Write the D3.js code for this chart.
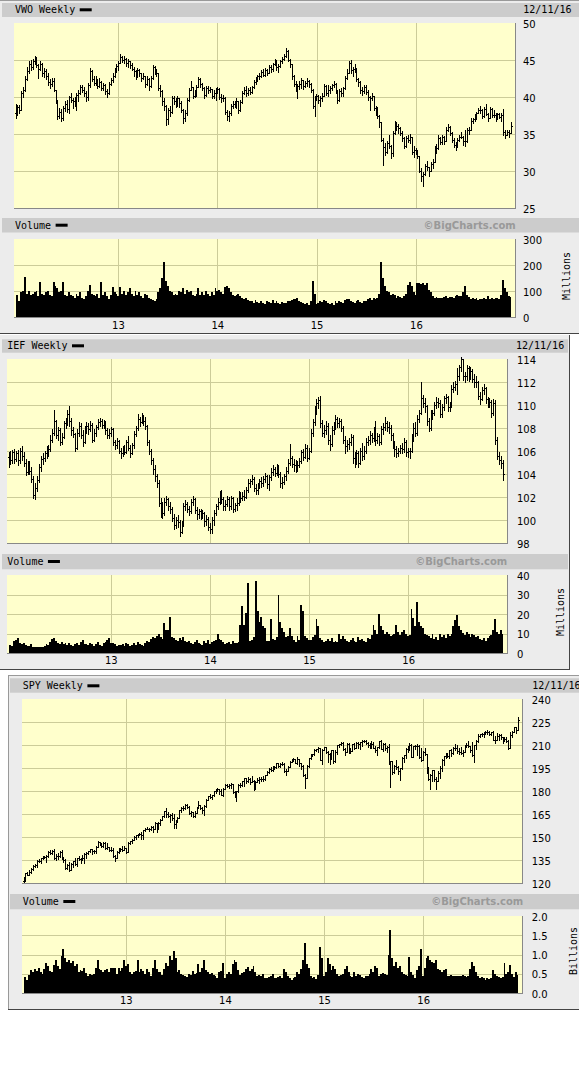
<!DOCTYPE html>
<html><head><meta charset="utf-8">
<script src="https://cdn.jsdelivr.net/npm/d3@7"></script>
<style>body{margin:0;background:#fff;}svg{display:block}</style>
</head><body>
<svg id="c" width="579" height="1068"></svg>
<script>
// ---------- x categories ----------
const firstWeek = "2011-12-16";           // first weekly bar (Friday)
const xDomain = ["2011-12-16", "2016-12-30"];
const yearTicks = ["2013-01-01", "2014-01-01", "2015-01-01", "2016-01-01"];
const yearLabels = ["13", "14", "15", "16"];

// ---------- VWO ----------
const vwoPriceTicks = [25, 30, 35, 40, 45, 50];
const vwoVolTicks = [0, 100, 200, 300];
const vwoClose = [
37.9,38.6,38.2,
40.5,41.0,42.5,43.5,44.5,44.0,44.8,45.0,44.3,43.8,44.5,43.2,43.5,42.8,42.0,41.8,42.2,41.0,39.5,37.5,38.0,37.2,38.5,39.0,38.4,40.0,39.6,39.4,39.0,40.3,40.6,41.3,41.0,40.5,40.0,41.6,43.5,42.5,41.9,42.3,41.5,42.0,41.2,41.6,40.8,40.5,41.8,42.3,42.9,43.6,44.2,44.6,
45.4,45.0,45.2,44.6,44.8,44.3,43.8,43.5,42.8,43.6,43.2,42.6,42.9,41.8,42.5,41.5,42.6,44.0,43.4,43.2,41.2,40.8,39.5,38.8,37.0,38.2,38.0,39.8,39.5,39.0,39.8,39.2,38.3,37.2,37.9,39.6,40.9,41.4,40.2,40.8,41.3,42.4,41.8,41.2,40.3,41.2,41.0,41.1,40.2,40.5,40.9,41.1,
40.0,39.8,39.9,38.0,37.5,37.8,38.8,39.0,39.2,39.5,38.2,39.3,40.6,41.0,40.6,41.0,40.7,41.3,42.0,42.4,42.8,42.9,43.4,43.0,43.6,43.3,44.0,43.8,44.4,44.9,44.0,44.2,44.8,45.2,45.5,46.2,45.0,44.4,42.8,41.8,41.2,41.5,41.8,42.3,41.5,41.9,42.1,41.8,41.0,38.8,39.8,40.1,
39.6,39.8,40.2,41.5,40.6,41.0,41.2,41.6,41.8,40.8,39.6,40.8,40.5,41.2,42.6,43.3,44.6,43.6,43.8,43.8,42.4,42.0,40.9,40.8,41.4,40.7,40.0,39.9,40.1,38.5,38.4,37.5,36.6,34.2,33.2,32.6,33.8,33.4,32.4,35.2,36.2,36.1,35.8,35.1,34.5,33.4,34.5,34.2,34.6,32.6,32.8,32.6,
32.0,30.0,29.3,29.6,30.7,30.6,30.0,30.9,31.2,33.2,33.1,34.5,33.9,34.6,34.0,35.6,36.0,35.2,34.2,33.5,33.3,34.2,34.6,34.6,34.0,34.0,35.6,35.6,36.8,37.0,37.4,37.8,38.2,38.3,37.4,38.4,37.7,37.1,38.4,37.6,37.6,37.2,37.7,37.3,37.6,35.3,34.9,35.3,35.1,36.1];
const vwoHigh = [
39.0,38.9,38.9,
40.8,41.4,42.8,44.0,44.8,45.0,45.2,45.6,45.4,44.4,44.9,44.6,43.9,43.8,43.2,42.4,42.6,42.6,41.0,39.6,38.5,38.4,38.8,39.4,39.6,40.2,40.5,39.8,40.0,40.5,41.0,41.6,41.6,41.4,40.8,41.9,43.9,43.7,42.8,42.8,42.5,42.6,42.1,41.9,41.7,41.1,42.0,42.6,43.2,43.9,44.5,44.9,
45.8,45.6,45.5,45.3,45.1,44.9,44.6,44.0,43.6,43.9,43.8,43.3,43.2,42.9,42.8,42.6,42.8,44.3,44.2,43.8,43.3,41.6,40.9,39.8,38.9,38.5,38.8,40.1,40.2,39.8,40.1,39.9,39.5,38.4,38.2,39.8,41.2,42.2,41.4,41.0,41.6,42.7,42.6,41.9,41.3,41.5,41.5,41.4,41.1,40.9,41.2,41.4,
41.2,40.4,40.3,40.0,38.3,38.1,39.1,39.4,39.5,39.9,39.5,39.6,40.8,41.4,41.5,41.2,41.3,41.5,42.3,42.7,43.0,43.3,43.7,43.8,43.9,43.8,44.3,44.3,44.6,45.2,45.0,44.5,45.0,45.4,45.8,46.6,46.3,45.2,44.3,43.0,42.1,41.8,42.2,42.6,42.3,42.2,42.6,42.3,41.9,41.1,40.2,40.4,
40.3,40.2,40.6,41.8,41.6,41.6,41.5,41.8,42.1,41.9,40.9,41.1,41.2,41.4,42.8,43.8,44.9,45.0,44.0,44.4,43.9,42.6,42.1,41.3,41.6,41.6,40.9,40.1,40.5,40.2,38.8,38.6,37.6,36.6,34.5,33.8,34.1,34.9,33.5,35.4,36.7,36.6,36.3,35.9,35.4,34.6,34.7,34.9,35.0,34.5,33.4,33.1,
32.9,31.8,30.4,29.9,31.0,31.4,30.6,31.2,31.6,33.4,33.6,34.8,34.6,34.8,34.7,35.9,36.4,36.1,35.3,34.5,33.9,34.5,34.9,35.3,34.7,35.6,35.8,35.9,37.1,37.2,37.7,38.0,38.5,38.8,38.4,38.6,39.0,37.8,38.7,38.5,38.2,37.9,37.9,37.9,37.8,38.4,35.5,35.6,35.6,36.6];
const vwoLow = [
37.2,37.6,37.9,
38.4,40.0,40.8,42.3,43.2,43.6,43.8,44.4,44.0,42.6,43.7,42.9,42.7,42.5,41.6,41.2,41.5,40.8,39.2,37.0,37.2,36.7,36.9,38.1,38.0,37.9,39.3,38.5,38.8,38.2,39.5,40.4,40.7,40.2,39.5,39.6,41.4,42.2,41.6,41.6,41.2,41.3,40.9,40.9,40.4,40.0,40.4,41.6,42.0,42.7,43.4,43.6,
44.8,44.7,44.6,44.2,44.1,43.9,43.6,42.8,42.4,42.7,42.9,42.1,42.4,41.3,41.6,41.0,41.4,42.5,43.1,42.9,40.9,40.2,38.9,38.2,36.2,36.3,37.4,37.9,39.1,38.6,38.8,38.7,38.0,36.5,36.8,37.6,39.5,40.9,39.9,40.0,40.2,41.3,41.4,40.9,39.8,40.1,40.6,40.7,39.8,39.9,39.6,40.6,
39.7,39.3,39.4,37.7,36.9,36.8,37.6,38.5,38.6,38.5,37.8,38.1,39.2,40.4,40.2,40.3,40.4,40.5,41.2,41.8,42.2,42.5,42.7,42.8,42.8,43.0,43.3,43.4,43.5,44.3,43.7,43.4,44.1,44.6,45.0,45.4,44.8,44.0,42.5,41.5,40.8,39.9,41.1,41.2,41.1,41.3,41.5,41.4,40.7,38.5,37.5,39.6,
39.2,38.8,39.4,40.1,40.3,40.1,40.6,40.9,41.3,40.5,39.2,39.5,40.1,40.2,41.1,42.5,43.2,43.3,42.9,43.4,42.1,41.5,40.6,40.3,40.6,40.4,39.6,38.2,39.6,38.2,37.6,37.2,35.9,34.0,30.8,32.1,32.4,33.1,31.8,32.0,35.0,35.6,35.2,34.8,34.1,33.1,33.3,33.9,33.8,32.3,31.9,32.3,
31.8,29.8,28.6,28.0,29.4,30.1,29.3,30.2,30.4,31.3,32.5,33.0,33.6,33.6,33.6,34.1,35.4,34.9,33.9,33.2,32.8,33.2,34.0,34.4,33.5,33.4,33.9,35.0,35.7,36.5,36.7,37.0,37.8,37.9,37.1,37.3,37.6,36.8,37.2,37.3,37.3,36.8,37.0,37.1,36.8,34.9,34.5,34.9,34.6,35.3];
const vwoVolume = [ // millions
70,85,60,
95,100,155,90,100,85,90,95,100,80,135,90,85,95,100,85,80,136,120,110,95,100,136,85,80,95,85,80,75,90,80,95,75,70,80,100,125,90,85,80,90,75,136,85,95,80,70,85,115,95,90,80,
115,90,100,85,95,110,90,80,100,85,95,80,75,90,85,75,70,65,60,70,95,110,150,213,140,120,100,95,85,90,85,100,95,110,90,105,95,100,85,80,90,110,85,95,85,100,90,80,95,85,110,100,
105,95,90,115,120,110,95,85,80,85,90,80,75,70,75,65,60,60,55,65,58,55,60,55,50,62,58,52,65,55,60,55,50,58,52,55,60,62,65,68,70,75,60,58,55,50,52,48,60,139,90,50,
55,60,58,65,62,55,50,52,48,60,55,62,58,55,65,70,68,60,58,55,62,65,58,55,60,62,70,75,65,72,68,75,90,213,150,120,100,95,85,90,85,75,80,78,75,80,90,125,135,118,95,85,
130,132,128,130,125,130,105,95,80,75,78,72,75,73,78,80,75,78,76,74,80,85,80,82,95,119,84,78,70,72,68,72,65,68,70,75,70,80,68,72,70,75,72,70,85,143,110,95,80,78];

// ---------- IEF ----------
const iefPriceTicks = [98, 100, 102, 104, 106, 108, 110, 112, 114];
const iefVolTicks = [0, 10, 20, 30, 40];
const iefClose = [
105.5,105.2,105.9,
105.3,105.8,105.2,106.0,105.6,105.0,104.2,104.8,104.3,103.6,102.2,102.8,103.5,104.6,105.3,105.4,105.8,106.0,106.2,107.0,107.6,108.6,107.4,107.8,106.8,107.2,108.4,108.5,109.2,108.6,107.8,107.5,106.3,107.6,108.2,107.4,106.8,107.9,108.2,107.9,108.3,107.0,107.6,108.1,108.5,108.6,108.3,108.4,107.8,107.4,107.6,107.9,
106.8,106.5,106.9,106.0,105.8,106.2,105.9,106.8,106.3,105.8,106.5,107.5,108.0,108.8,108.5,109.0,108.6,108.2,106.8,106.0,105.2,104.4,103.8,103.2,101.5,101.0,100.6,101.6,101.8,101.2,101.0,100.2,99.6,100.0,99.8,99.0,99.6,101.2,101.4,101.0,100.8,101.6,101.8,100.9,100.5,100.8,100.4,100.6,99.9,100.1,99.4,99.2,
100.0,100.6,101.2,101.6,102.2,101.8,101.2,101.4,101.8,101.2,101.9,101.0,101.3,101.5,102.3,101.9,102.1,102.0,102.6,103.2,103.4,103.6,102.8,102.6,102.9,103.4,103.2,103.6,103.8,103.1,103.7,104.2,104.4,104.1,104.6,104.0,103.2,103.3,103.8,104.3,105.0,105.4,104.9,104.8,104.6,104.8,105.1,105.9,105.5,106.3,105.4,106.0,
107.6,108.5,109.6,110.2,110.4,108.4,107.6,107.8,108.2,107.0,106.6,107.8,108.2,108.8,108.4,108.6,108.0,107.0,106.4,106.6,106.8,107.2,105.4,105.2,105.8,105.0,106.0,105.6,106.0,106.8,107.0,107.4,107.1,107.8,107.0,107.3,106.8,107.9,108.1,108.4,108.1,108.0,107.4,106.6,106.2,105.8,106.0,106.3,106.2,106.8,105.9,106.0,
106.0,107.2,108.0,107.6,108.8,109.3,110.6,110.2,109.9,108.6,108.0,109.3,109.3,110.0,110.3,110.2,109.2,109.8,110.6,110.7,109.8,110.0,111.4,111.6,111.8,112.5,113.3,114.0,112.5,112.5,113.2,112.5,113.0,112.3,112.0,112.0,110.8,110.5,111.3,111.5,110.5,110.1,110.3,109.3,110.2,107.0,105.6,105.2,105.0,104.0];
const iefHigh = [
105.9,106.0,106.1,
106.2,106.0,106.1,106.3,106.4,105.9,105.3,105.1,105.1,104.6,103.8,103.2,103.8,104.9,105.6,105.8,106.0,106.4,106.5,107.4,107.9,109.6,108.7,108.1,108.0,107.6,108.6,108.9,109.6,109.9,108.9,108.1,107.6,107.9,108.5,108.4,107.8,108.2,108.5,108.4,108.6,108.4,107.9,108.3,108.8,108.9,108.8,108.7,108.6,108.0,107.9,108.1,
108.0,107.0,107.1,107.0,106.3,106.4,106.5,107.0,107.3,106.5,106.7,107.7,108.2,109.2,109.0,109.3,109.1,109.0,108.3,107.0,106.2,105.4,104.8,104.0,103.5,101.9,101.6,101.9,102.1,101.9,101.6,101.1,100.5,100.3,100.4,100.0,99.9,101.5,101.7,101.6,101.2,101.8,102.1,101.9,101.1,101.0,101.0,100.9,100.7,100.4,100.3,99.7,
100.3,100.9,101.4,101.9,102.5,102.6,102.0,101.7,102.1,102.0,102.1,102.0,101.5,101.9,102.5,102.4,102.4,102.6,102.9,103.6,103.6,103.9,103.7,103.1,103.2,103.6,103.7,103.8,104.1,103.9,103.9,104.5,104.8,104.6,104.9,104.8,104.2,103.7,104.0,104.6,105.3,106.6,105.6,105.3,105.2,105.1,105.4,106.1,106.2,106.6,106.5,106.3,
107.9,108.8,109.9,110.5,110.7,110.8,108.7,108.3,108.6,108.4,107.4,108.2,108.5,109.1,109.0,108.9,108.8,108.2,107.3,107.0,107.1,107.5,107.4,105.9,106.1,106.0,106.3,106.7,106.4,107.1,107.3,107.7,107.6,108.1,108.6,107.6,107.5,108.2,108.4,109.0,108.6,108.5,108.3,107.6,106.9,106.4,106.3,106.5,106.7,107.1,107.0,106.3,
106.3,107.5,108.4,108.5,109.1,109.6,112.0,110.9,110.6,110.0,108.9,109.6,109.6,110.3,110.7,110.6,110.4,110.1,110.8,111.0,110.8,110.3,111.7,112.0,112.1,113.2,113.5,114.2,114.0,112.9,113.5,113.4,113.3,113.1,112.7,112.5,112.1,111.1,111.6,111.8,111.6,110.7,110.6,110.4,110.5,110.4,107.2,105.9,105.6,105.2];
const iefLow = [
104.6,104.9,105.0,
105.0,105.1,104.8,105.0,105.2,104.7,103.9,104.0,104.0,103.3,101.9,101.8,102.5,103.3,104.3,104.9,105.1,105.4,105.6,106.0,106.8,107.4,107.1,107.0,106.5,106.6,107.1,108.0,108.3,108.2,107.4,107.2,106.0,106.2,107.3,107.1,106.4,106.7,107.6,107.5,107.7,106.8,106.9,107.3,107.9,108.2,108.0,108.0,107.5,107.1,107.1,107.3,
106.5,106.2,106.3,105.8,105.4,105.6,105.7,105.8,106.1,105.5,105.7,106.3,107.3,107.8,108.2,108.4,108.3,107.9,106.5,105.7,104.9,104.0,103.4,102.9,101.2,100.3,100.2,100.4,101.3,100.9,100.6,99.9,99.2,99.3,99.4,98.6,98.9,99.5,100.9,100.7,100.4,100.6,101.3,100.6,100.1,100.2,100.1,100.2,99.5,99.6,99.1,98.9,
98.9,99.6,100.4,101.0,101.4,101.5,100.9,100.9,101.2,100.9,101.0,100.7,100.8,100.9,101.3,101.6,101.7,101.7,101.9,102.4,102.9,103.1,102.5,102.3,102.3,102.8,102.9,103.0,103.3,102.8,102.6,103.5,103.9,103.8,103.9,103.7,102.9,102.8,103.1,103.5,104.1,104.8,104.6,104.3,104.2,104.3,104.6,105.0,105.2,105.4,105.1,105.3,
105.9,107.3,108.3,109.2,109.7,108.1,107.3,107.2,107.5,106.6,106.1,106.4,107.5,107.9,108.1,108.1,107.7,106.7,105.8,106.0,106.2,106.5,105.0,104.6,104.9,104.6,104.9,105.2,105.3,105.8,106.5,106.6,106.8,106.9,106.5,106.7,106.5,106.6,107.5,107.8,107.7,107.6,107.0,106.3,105.6,105.5,105.6,105.8,105.8,105.9,105.6,105.5,
105.4,105.9,106.9,107.3,107.4,108.5,109.2,109.8,109.4,108.3,107.7,107.8,108.8,109.1,109.7,109.8,109.0,109.0,109.6,110.2,109.5,109.5,109.8,111.1,111.3,111.0,112.2,113.0,112.2,112.0,112.2,112.1,112.3,112.0,111.6,111.6,110.5,110.1,110.4,111.0,110.2,109.8,109.8,109.0,109.1,106.6,105.3,104.9,104.5,103.5];
const iefVolume = [ // millions
5.0,4.0,3.5,
6.0,6.5,7.6,5.0,4.5,5.2,4.0,3.5,3.8,4.5,3.2,3.2,3.2,3.2,3.3,3.2,3.6,4.5,4.2,5.5,7.0,7.6,6.0,5.0,4.5,5.5,4.5,5.0,4.2,5.2,4.0,3.8,4.5,5.0,4.2,5.5,6.5,4.5,4.8,4.2,5.0,4.6,3.8,4.8,5.5,4.0,3.5,5.0,5.5,6.8,7.5,5.2,
5.0,4.5,3.8,4.2,4.0,4.5,3.8,5.2,4.5,3.6,4.0,5.0,4.2,5.5,4.5,4.0,3.8,5.0,6.2,5.5,7.0,8.0,7.5,8.5,10.0,8.0,7.0,15.6,12.0,11.9,18.4,8.0,7.5,6.8,6.0,7.5,6.5,8.0,6.2,5.5,6.0,5.0,4.8,5.5,6.5,5.0,4.8,4.0,6.0,5.2,6.8,4.5,
5.5,6.0,6.5,9.7,7.0,6.5,5.5,4.8,5.0,5.5,4.6,6.0,5.2,5.0,5.5,14.4,24.2,14.4,20.6,36.1,6.0,6.5,8.0,36.8,21.3,16.0,18.5,14.0,13.0,6.0,6.0,17.5,7.0,6.5,8.0,30.0,16.0,13.0,11.0,8.0,8.5,13.0,8.5,6.5,5.5,8.5,6.5,24.7,21.3,8.5,7.5,6.8,
6.5,8.0,9.0,17.5,13.6,7.5,6.5,5.5,6.0,7.0,6.0,7.5,5.5,6.0,5.5,9.5,7.0,8.5,7.0,6.0,5.5,6.5,7.5,6.0,5.5,8.0,6.5,7.0,6.0,5.5,7.5,7.0,9.0,14.4,12.0,10.0,20.0,13.6,11.9,10.0,11.0,9.5,8.5,9.0,10.0,14.4,11.0,9.0,11.0,12.0,9.5,8.5,
9.0,22.6,18.0,14.0,25.9,16.0,13.6,12.8,10.0,9.0,8.5,7.5,10.0,7.0,8.0,6.8,10.0,8.0,9.0,7.7,10.0,8.5,9.5,14.0,17.0,19.5,14.0,12.0,10.5,9.0,11.0,9.5,8.0,10.0,9.0,8.0,8.5,7.0,6.5,7.5,6.0,7.5,8.5,9.0,12.0,17.5,11.0,9.5,12.0,10.0];

// ---------- SPY ----------
const spyPriceTicks = [120, 135, 150, 165, 180, 195, 210, 225, 240];
const spyVolTicks = [0, 0.5, 1.0, 1.5, 2.0];
const spyClose = [
121.6,126.4,125.5,
127.5,129.1,131.3,131.8,134.5,134.4,136.4,137.0,136.8,137.6,140.3,139.8,140.8,136.0,137.4,137.9,140.3,136.1,135.0,129.7,131.7,128.2,132.3,134.4,132.6,136.1,135.4,135.5,136.5,138.9,139.4,140.8,141.9,140.7,140.6,143.8,146.6,145.8,143.9,146.1,142.6,143.4,141.4,141.2,137.9,136.4,140.4,141.5,142.0,141.4,142.8,140.0,
146.2,147.1,148.3,150.3,151.2,151.9,152.1,151.6,154.3,155.5,155.3,155.1,156.7,154.9,159.0,155.5,159.2,161.4,163.4,166.9,165.2,163.5,164.4,162.5,158.8,160.4,162.4,167.5,169.2,169.1,170.9,169.3,165.5,166.1,163.7,165.5,168.9,170.7,169.1,167.4,170.3,174.4,176.9,176.2,177.3,180.1,180.6,181.0,180.0,177.7,181.6,184.0,
183.0,184.1,184.4,179.1,177.9,179.7,184.0,183.9,186.3,188.3,186.2,188.1,185.7,186.4,181.5,186.1,186.9,188.1,187.7,187.7,190.4,192.7,194.5,193.7,195.9,195.5,198.2,196.6,197.7,197.8,192.9,193.2,195.7,199.2,200.7,200.6,198.5,201.0,198.0,196.2,190.5,188.5,196.4,201.7,203.9,204.0,206.7,207.2,208.0,200.3,206.8,208.7,
205.4,204.3,201.6,206.5,199.5,205.6,209.8,210.7,211.4,207.5,205.7,210.4,205.7,206.4,210.4,207.9,211.5,210.6,211.8,212.4,212.8,211.1,209.8,209.8,210.8,208.1,206.9,208.7,212.6,207.5,210.5,207.9,208.7,197.6,199.3,192.6,196.0,195.5,193.0,195.0,201.3,203.3,207.5,207.9,210.0,202.5,209.3,209.6,209.6,201.9,200.0,205.7,
203.9,192.0,188.1,190.5,193.7,188.0,186.6,192.0,195.0,200.4,202.8,204.4,203.1,206.9,204.5,207.8,208.0,206.3,205.7,204.8,205.5,210.2,210.3,209.3,206.5,203.2,209.9,212.6,216.1,217.2,217.1,218.2,218.5,218.5,217.3,218.4,213.3,213.4,215.9,216.3,215.0,213.1,213.9,212.5,208.0,216.4,218.5,221.5,219.7,226.5];
const spyHigh = [
123.9,126.6,127.1,
128.4,129.6,131.5,132.3,134.7,135.6,136.6,137.4,137.9,138.1,140.9,141.2,141.3,142.2,139.1,139.3,140.7,141.5,136.8,135.4,132.6,133.5,133.0,134.6,136.3,136.3,137.5,136.2,138.0,139.3,140.1,141.0,142.2,142.3,141.3,144.1,147.2,147.0,146.2,146.6,146.5,146.0,143.6,143.2,143.0,138.5,140.6,142.6,142.6,144.2,144.4,143.0,
146.6,147.5,148.6,150.6,151.4,152.2,152.6,153.3,154.5,155.9,156.3,156.0,157.0,157.5,159.7,159.1,159.7,162.0,163.7,167.0,169.1,166.5,164.9,165.4,165.0,161.2,162.9,167.9,169.6,170.0,171.3,171.2,170.0,167.0,166.6,166.8,169.3,173.3,171.0,169.6,170.8,174.5,177.0,177.8,177.6,180.2,181.1,181.8,181.2,181.2,182.1,184.3,
184.7,184.6,185.2,184.8,180.3,180.0,184.3,184.9,186.7,188.7,188.8,189.2,188.6,189.7,187.5,186.3,188.3,189.0,189.0,189.5,190.5,193.0,194.9,195.6,196.3,196.5,198.3,198.2,198.1,199.1,198.3,194.5,196.2,199.8,200.9,201.4,200.9,201.9,200.8,198.5,197.0,190.9,196.9,201.8,204.3,204.4,207.3,207.6,208.5,207.3,207.3,209.0,
208.9,206.3,205.1,206.9,206.3,206.6,210.0,210.8,212.2,212.2,208.2,211.0,211.3,208.2,210.8,211.2,211.9,212.2,212.0,213.0,213.3,213.2,212.1,211.4,212.3,212.0,209.1,209.0,212.8,213.0,211.6,211.3,209.4,210.5,199.8,199.1,196.9,200.3,196.1,195.1,202.0,203.4,207.9,209.4,211.0,210.6,209.6,210.3,210.8,209.9,207.9,206.3,
208.3,201.9,195.9,191.3,194.0,194.0,189.1,193.3,196.4,201.1,202.9,204.9,204.9,207.0,207.5,208.6,210.9,209.8,208.0,208.5,207.0,210.3,211.5,212.5,209.4,211.7,210.3,213.0,217.0,217.5,217.9,218.6,219.1,219.6,219.0,218.8,219.3,215.7,217.7,217.3,217.1,215.5,215.0,215.2,213.2,218.3,219.3,221.6,221.8,228.0];
const spyLow = [
120.6,121.4,124.9,
126.4,126.8,128.7,130.3,130.5,133.9,133.1,135.9,136.0,134.0,137.2,139.0,139.2,135.8,134.9,135.9,136.9,135.9,133.6,129.1,129.2,127.7,128.3,130.6,131.5,130.9,135.0,133.0,134.7,132.9,136.5,138.9,140.3,139.2,139.4,139.3,143.2,145.0,143.3,143.8,142.1,142.2,140.7,140.8,136.7,134.5,136.8,139.6,140.6,141.1,141.6,139.5,
141.3,145.2,146.0,148.6,148.9,149.8,151.3,148.8,148.9,153.8,154.9,153.6,154.5,153.0,155.0,153.5,155.8,157.6,161.2,163.0,163.2,163.0,159.7,161.2,155.8,155.7,159.6,162.1,166.5,167.6,168.4,168.6,165.1,164.0,163.0,163.3,165.7,168.8,168.1,165.9,164.5,169.4,174.0,175.3,174.7,176.7,178.7,179.9,178.1,177.3,176.8,181.5,
182.5,181.7,181.8,178.9,176.2,173.7,179.4,182.7,183.0,183.5,184.9,185.9,184.4,185.8,180.5,181.8,185.9,185.4,186.2,186.5,187.0,190.3,192.0,192.8,193.1,194.6,195.3,195.6,195.5,196.8,192.4,190.6,192.8,195.5,198.8,199.4,198.0,197.8,196.5,194.4,190.0,181.9,188.2,195.8,200.8,203.0,203.4,206.1,205.6,200.0,197.9,206.6,
204.7,198.6,197.9,200.7,198.3,198.9,204.2,208.6,210.2,206.9,203.6,205.3,204.6,204.9,205.8,207.1,208.3,208.1,207.6,209.6,211.8,210.4,208.8,207.8,208.1,207.8,205.3,203.6,207.9,207.1,205.9,207.0,205.4,197.5,182.4,191.4,191.6,194.5,191.3,186.9,194.3,199.0,201.8,205.6,206.9,202.3,202.0,207.5,203.6,201.8,199.8,200.6,
203.7,191.8,186.9,181.1,186.8,186.4,181.0,187.3,188.8,193.1,196.8,201.4,201.9,201.8,203.1,203.9,206.9,204.8,203.9,204.4,202.8,205.2,208.9,208.5,205.3,202.8,198.7,207.2,211.9,215.1,215.6,215.0,217.4,217.1,216.3,216.8,213.2,211.2,213.0,213.3,214.0,211.2,212.5,211.7,207.1,208.5,215.3,218.5,218.1,219.8];
const spyVolume = [ // billions
0.50,0.42,0.35,
0.48,0.60,0.55,0.62,0.58,0.65,0.55,0.50,0.62,0.78,0.70,0.58,0.55,0.72,0.85,0.70,0.62,0.95,1.13,0.90,0.80,0.85,0.78,0.82,0.70,0.75,0.55,0.60,0.58,0.66,0.52,0.45,0.50,0.48,0.50,0.64,0.85,0.62,0.60,0.55,0.60,0.62,0.55,0.64,0.64,0.64,0.50,0.64,0.58,0.65,0.85,0.70,
0.75,0.55,0.50,0.55,0.58,0.85,0.55,0.62,0.56,0.50,0.62,0.55,0.45,0.65,0.85,0.62,0.55,0.55,0.48,0.62,0.78,0.70,0.95,0.85,1.10,0.90,0.55,0.60,0.50,0.48,0.45,0.42,0.50,0.48,0.58,0.50,0.52,0.75,0.55,0.65,0.85,0.60,0.55,0.50,0.52,0.48,0.45,0.38,0.55,0.58,0.78,0.40,
0.50,0.55,0.50,0.75,0.87,0.80,0.60,0.48,0.52,0.55,0.62,0.68,0.58,0.62,0.70,0.55,0.45,0.48,0.45,0.50,0.38,0.40,0.42,0.45,0.50,0.40,0.38,0.42,0.45,0.40,0.62,0.55,0.45,0.38,0.35,0.40,0.42,0.55,0.50,0.62,0.85,1.30,0.75,0.65,0.45,0.40,0.42,0.36,0.48,1.19,0.90,0.45,
0.55,0.90,0.75,0.60,0.70,0.62,0.50,0.45,0.48,0.50,0.62,0.70,0.55,0.45,0.42,0.55,0.45,0.50,0.48,0.42,0.40,0.45,0.45,0.50,0.62,0.55,0.70,0.65,0.45,0.50,0.52,0.50,0.48,1.00,1.63,0.90,0.70,0.80,0.65,0.70,0.55,0.50,0.48,0.45,0.94,0.55,0.48,0.38,0.60,0.70,1.13,0.45,
0.65,0.90,0.95,0.85,0.80,0.78,0.85,0.62,0.60,0.55,0.60,0.62,0.45,0.45,0.46,0.44,0.45,0.43,0.45,0.44,0.46,0.43,0.42,0.45,0.62,0.81,0.70,0.55,0.45,0.40,0.42,0.38,0.35,0.38,0.36,0.40,0.60,0.50,0.45,0.42,0.40,0.42,0.77,0.50,0.55,0.72,0.50,0.42,0.55,0.48];

// ---------- drawing ----------
const parse = d3.timeParse("%Y-%m-%d");
const start = parse(firstWeek);
const MONO = "'DejaVu Sans Mono', monospace";
const SANS = "'DejaVu Sans', Verdana, sans-serif";
const svg = d3.select("#c");

const panels = [
  { title: "VWO Weekly", date: "12/11/16", close: vwoClose, high: vwoHigh, low: vwoLow, volume: vwoVolume,
    priceTicks: vwoPriceTicks, volTicks: vwoVolTicks, volFmt: "d", unit: "Millions",
    L: { box: [0, 0, 579, 334], hdr: [2, 3, 577, 14], vhdr: [2, 218, 577, 14.5],
         x0: 14, x1: 515, py0: 23, py1: 208, vy0: 239, vy1: 317,
         titleX: 15, titleY: 13.3, vtitleY: 228.7, dateX: 523.3, labelX: 523,
         unitX: 570, unitY: 276, yearY: 329, bcRight: 515.7,
         lines: [[0, 0.5, 579, 0.5, "#999"], [0, 333.5, 579, 333.5, "#444"]] } },
  { title: "IEF Weekly", date: "12/11/16", close: iefClose, high: iefHigh, low: iefLow, volume: iefVolume,
    priceTicks: iefPriceTicks, volTicks: iefVolTicks, volFmt: "d", unit: "Millions",
    L: { box: [0, 335, 570, 335], hdr: [2, 339.3, 566, 13.4], vhdr: [2, 554, 566, 15.3],
         x0: 7, x1: 507, py0: 359, py1: 543, vy0: 575, vy1: 653,
         titleX: 7.3, titleY: 349.3, vtitleY: 565, dateX: 516, labelX: 517,
         unitX: 564, unitY: 612, yearY: 664, bcRight: 507.3,
         lines: [[569.5, 335, 569.5, 670, "#444"], [0, 669.5, 570, 669.5, "#444"]] } },
  { title: "SPY Weekly", date: "12/11/16", close: spyClose, high: spyHigh, low: spyLow, volume: spyVolume,
    priceTicks: spyPriceTicks, volTicks: spyVolTicks, volFmt: ".1f", unit: "Billions",
    L: { box: [8, 675, 571, 335], hdr: [10, 678.3, 569, 14.4], vhdr: [10, 894, 569, 15.3],
         x0: 22, x1: 522, py0: 699, py1: 883, vy0: 916, vy1: 993,
         titleX: 22.7, titleY: 689.3, vtitleY: 905, dateX: 532.3, labelX: 531.7,
         unitX: 577.3, unitY: 951, yearY: 1004, bcRight: 523.3,
         lines: [[8, 675.5, 579, 675.5, "#999"], [8.5, 675, 8.5, 1010, "#999"], [8, 1009.5, 579, 1009.5, "#444"]] } }
];

const bad = [];
panels.forEach(p => {
  const L = p.L, g = svg.append("g");
  [p.close, p.high, p.low, p.volume].forEach((a, k) => { if (a.length !== 261) bad.push(p.title + k + ":" + a.length); });
  g.append("rect").attr("x", L.box[0]).attr("y", L.box[1]).attr("width", L.box[2]).attr("height", L.box[3]).attr("fill", "#ececec");
  L.lines.forEach(([a, b, c, d, col]) => g.append("line").attr("x1", a).attr("y1", b).attr("x2", c).attr("y2", d).attr("stroke", col));
  [L.hdr, L.vhdr].forEach(r => g.append("rect").attr("x", r[0]).attr("y", r[1]).attr("width", r[2]).attr("height", r[3]).attr("fill", "#cccccc"));

  const txt = (x, y, s, fam, size) => g.append("text").attr("x", x).attr("y", y).attr("font-family", fam).attr("font-size", size).attr("fill", "#000").text(s);
  txt(L.titleX, L.titleY, p.title, MONO, 10);
  g.append("rect").attr("x", L.titleX + p.title.length * 6.02 + 4.5).attr("y", L.titleY - 5).attr("width", 12).attr("height", 3).attr("fill", "#000");
  txt(L.dateX, L.titleY, p.date, MONO, 10);
  txt(L.titleX, L.vtitleY, "Volume", MONO, 10);
  g.append("rect").attr("x", L.titleX + 6 * 6.02 + 4.5).attr("y", L.vtitleY - 5).attr("width", 12).attr("height", 3).attr("fill", "#000");
  g.append("text").attr("x", L.bcRight).attr("y", L.vtitleY).attr("text-anchor", "end").attr("font-family", SANS)
    .attr("font-weight", "bold").attr("font-size", 10).attr("fill", "#999").text("\u00A9BigCharts.com");

  const dates = d3.range(p.close.length).map(i => d3.timeDay.offset(start, 7 * i));
  const x = d3.scaleTime().domain(xDomain.map(parse)).range([L.x0, L.x1]);
  const y = d3.scaleLinear().domain(d3.extent(p.priceTicks)).range([L.py1, L.py0]);
  const yv = d3.scaleLinear().domain(d3.extent(p.volTicks)).range([L.vy1, L.vy0]);

  g.append("rect").attr("x", L.x0).attr("y", L.py0).attr("width", L.x1 - L.x0).attr("height", L.py1 - L.py0).attr("fill", "#ffffcc");
  g.append("rect").attr("x", L.x0).attr("y", L.vy0).attr("width", L.x1 - L.x0).attr("height", L.vy1 - L.vy0).attr("fill", "#ffffcc");

  const years = yearTicks.map(parse);
  const gp = [];
  years.forEach(d => { const xx = Math.round(x(d)) + 0.5; gp.push(`M${xx},${L.py0}V${L.py1}`, `M${xx},${L.vy0}V${L.vy1}`); });
  p.priceTicks.slice(1, -1).forEach(v => { const yy = Math.round(y(v)) + 0.5; gp.push(`M${L.x0},${yy}H${L.x1}`); });
  p.volTicks.slice(1, -1).forEach(v => { const yy = Math.round(yv(v)) + 0.5; gp.push(`M${L.x0},${yy}H${L.x1}`); });
  g.append("path").attr("d", gp.join("")).attr("stroke", "#cccc99").attr("fill", "none").attr("shape-rendering", "crispEdges");

  // OHLC bars (open = previous close)
  let d = "";
  const n = Math.min(p.close.length, p.high.length, p.low.length);
  for (let i = 0; i < n; i++) {
    const c = p.close[i], o = i > 0 ? p.close[i - 1] : c;
    const xx = Math.round(x(dates[i]) + 1.5);
    const yh = Math.round(y(Math.max(p.high[i], o, c)));
    const yl = Math.round(y(Math.min(p.low[i], o, c)));
    const yo = Math.round(y(o)), yc = Math.round(y(c));
    d += `M${xx},${yh}h1v${yl - yh + 1}h-1z M${xx - 1},${yo}h1v1h-1z M${xx + 1},${yc}h1v1h-1z `;
  }
  g.append("path").attr("d", d).attr("fill", "#000").attr("shape-rendering", "crispEdges");

  // volume
  const area = d3.area().x((v, i) => x(dates[i]) + 1.5).y0(L.vy1).y1(v => yv(v)).curve(d3.curveStep);
  g.append("path").datum(p.volume).attr("d", area).attr("fill", "#000").attr("shape-rendering", "crispEdges");

  // plot edges
  const edge = `M${L.x1 + 0.5},${L.py0}V${L.py1 + 1}M${L.x0},${L.py1 + 0.5}H${L.x1 + 1}M${L.x1 + 0.5},${L.vy0}V${L.vy1 + 1}M${L.x0},${L.vy1 + 0.5}H${L.x1 + 1}`;
  g.append("path").attr("d", edge).attr("stroke", "#888").attr("fill", "none").attr("shape-rendering", "crispEdges");

  // axes
  const styleAxis = s => { s.select(".domain").remove(); s.attr("font-family", SANS).attr("font-size", 10); s.selectAll("text").attr("fill", "#000"); };
  g.append("g").attr("transform", `translate(${L.labelX},0)`)
    .call(d3.axisRight(y).tickValues(p.priceTicks).tickSize(0).tickPadding(0).tickFormat(d3.format("d")))
    .call(styleAxis).selectAll("text").attr("dy", "0.4em").attr("text-anchor", "start");
  g.append("g").attr("transform", `translate(${L.labelX},0)`)
    .call(d3.axisRight(yv).tickValues(p.volTicks).tickSize(0).tickPadding(0).tickFormat(d3.format(p.volFmt)))
    .call(styleAxis).selectAll("text").attr("dy", "0.4em").attr("text-anchor", "start");
  g.append("g").attr("transform", `translate(0,${L.yearY})`)
    .call(d3.axisBottom(x).tickValues(years).tickSize(0).tickPadding(0).tickFormat((t, i) => yearLabels[i]))
    .call(styleAxis).selectAll("text").attr("dy", 0).attr("y", 0);

  g.append("text").attr("transform", `translate(${L.unitX},${L.unitY}) rotate(-90)`).attr("text-anchor", "middle")
    .attr("font-family", MONO).attr("font-size", 10).attr("fill", "#000").text(p.unit);
});
if (bad.length) svg.append("text").attr("x", 5).attr("y", 1040).attr("fill", "red").attr("font-size", 10).text(bad.join(" "));
</script>
</body></html>
